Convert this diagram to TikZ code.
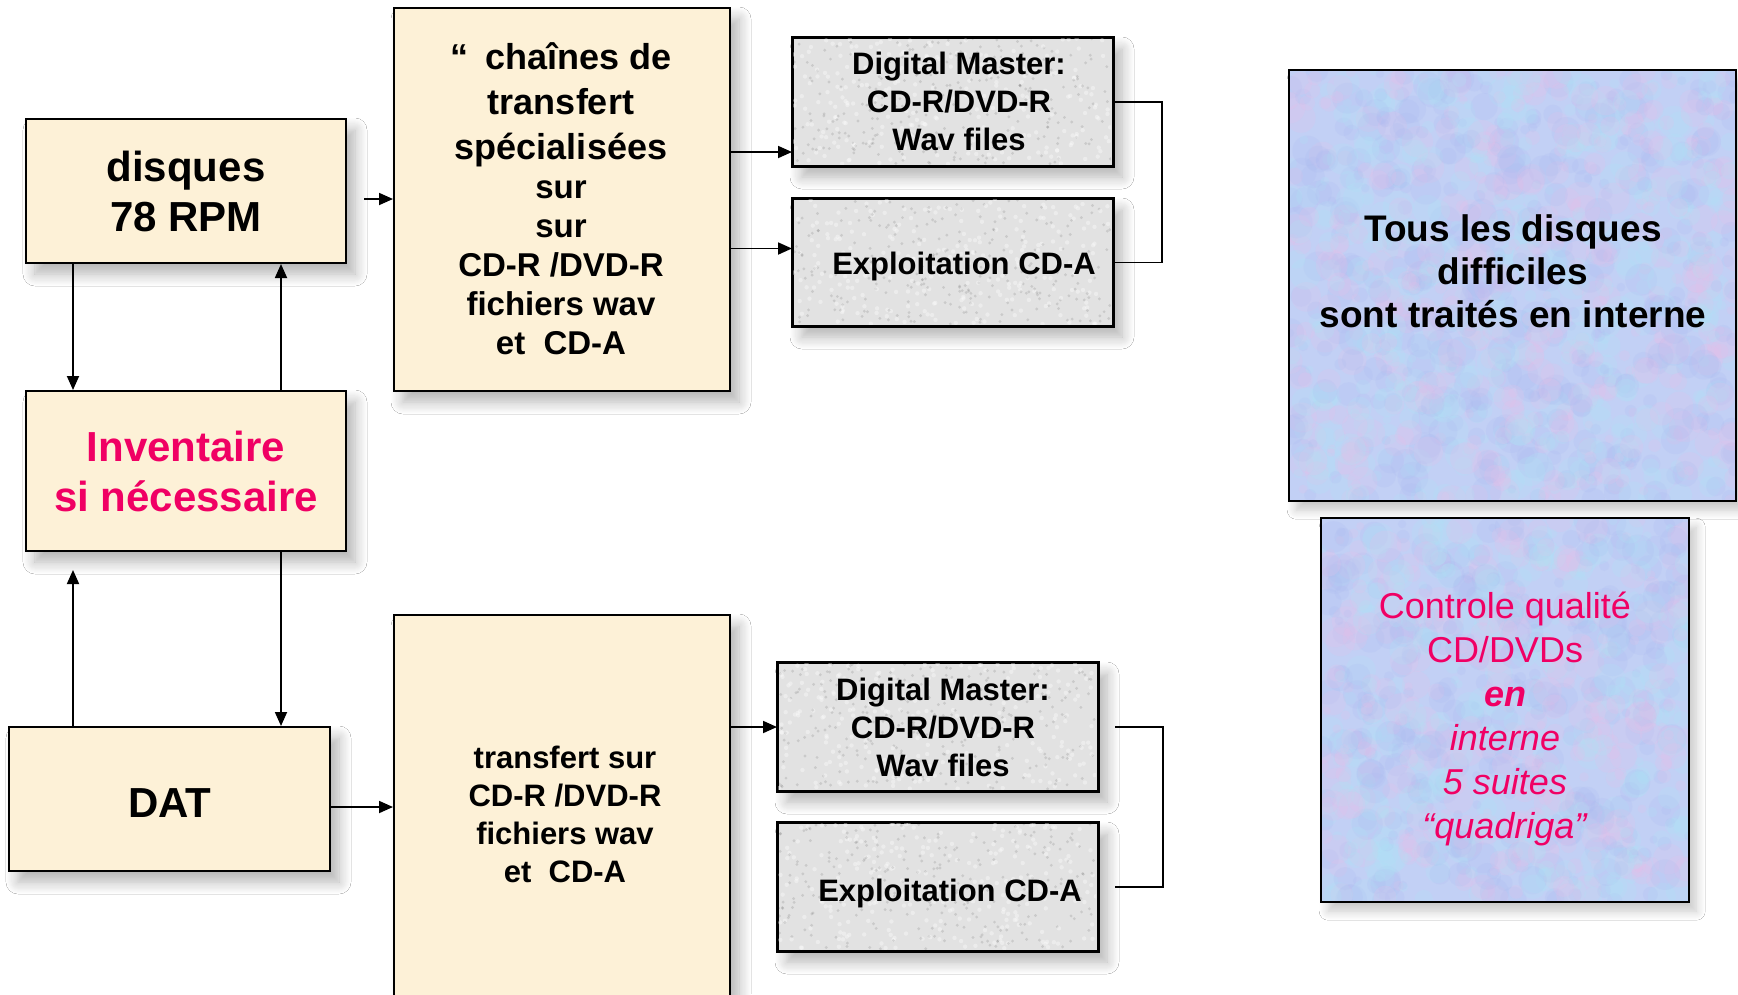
\documentclass[tikz,border=0pt]{standalone}
\usepackage{fontspec}
\setmainfont{Liberation Sans}
\usetikzlibrary{arrows.meta,shadows.blur,calc}
\definecolor{creamc}{RGB}{253,241,215}
\definecolor{grayc}{RGB}{226,226,226}
\definecolor{bluec}{RGB}{194,208,245}
\definecolor{pinkt}{RGB}{240,0,100}
\definecolor{blobpink}{RGB}{232,190,232}
\definecolor{blobcyan}{RGB}{175,228,245}
\definecolor{blobblue}{RGB}{170,185,240}
\tikzset{
  base/.style={draw=black, line width=2pt, inner sep=0pt, anchor=north west,
    blur shadow={shadow xshift=9pt, shadow yshift=-11pt, shadow blur radius=12pt, shadow blur steps=12, shadow opacity=30}},
  cream/.style={base, fill=creamc},
  graybox/.style={base, fill=grayc},
  bluebox/.style={inner sep=0pt, anchor=north west, fill=bluec,
    blur shadow={shadow xshift=7pt, shadow yshift=-9pt, shadow blur radius=9pt, shadow blur steps=10, shadow opacity=22}},
  arr/.style={line width=1.8pt, -{Triangle[length=14pt,width=12pt]}},
  conn/.style={line width=1.8pt},
  big/.style={align=center, font=\fontsize{42}{50}\selectfont\bfseries},
  mid/.style={align=center, font=\fontsize{31}{38}\selectfont\bfseries},
}
\newcommand{\speckle}[5]{% x0 y0 w h n
  \begin{scope}
    \clip (#1,#2) rectangle ++(#3,#4);
    \foreach \i in {1,...,#5}{
      \pgfmathsetmacro{\sx}{#1+rnd*#3}
      \pgfmathsetmacro{\sy}{#2+rnd*#4}
      \fill[black, opacity=0.10] (\sx,\sy) circle[radius=1.6];
      \pgfmathsetmacro{\tx}{#1+rnd*#3}
      \pgfmathsetmacro{\ty}{#2+rnd*#4}
      \fill[white, opacity=0.35] (\tx,\ty) circle[radius=2.2];
    }
  \end{scope}}
\newcommand{\mottle}[5]{% x0 y0 w h n
  \begin{scope}
    \clip (#1,#2) rectangle ++(#3,#4);
    \foreach \i in {1,...,#5}{
      \pgfmathsetmacro{\px}{#1+rnd*#3}
      \pgfmathsetmacro{\py}{#2+rnd*#4}
      \pgfmathsetmacro{\pr}{4+rnd*12}
      \fill[blobpink, opacity=0.20] (\px,\py) circle[radius=\pr];
      \pgfmathsetmacro{\qx}{#1+rnd*#3}
      \pgfmathsetmacro{\qy}{#2+rnd*#4}
      \fill[blobcyan, opacity=0.22] (\qx,\qy) circle[radius=\pr];
      \pgfmathsetmacro{\rx}{#1+rnd*#3}
      \pgfmathsetmacro{\ry}{#2+rnd*#4}
      \fill[blobblue, opacity=0.18] (\rx,\ry) circle[radius=\pr];
    }
  \end{scope}}
\begin{document}
\begin{tikzpicture}[x=1pt,y=-1pt]
\clip (0,0) rectangle (1738,994);
\fill[white] (0,0) rectangle (1738,994);
\pgfmathsetseed{7}

% left column
\node[cream, big, minimum width=320pt, minimum height=144pt] (disques) at (25,118) {disques\\78 RPM};
\node[cream, big, text=pinkt, minimum width=320pt, minimum height=160pt] (inv) at (25,390) {Inventaire\\si nécessaire};
\node[cream, minimum width=321pt, minimum height=144pt] (dat) at (8,726) {};
\node[font=\fontsize{42}{50}\selectfont\bfseries] (datt) at (170,803) {DAT};

% transfer boxes
\node[cream, minimum width=336pt, minimum height=383pt] (ch) at (393,7) {};
\node[align=center, font=\fontsize{36}{45}\selectfont\bfseries] (cht1) at (561,105) {“\hspace{0.45em}chaînes de\\transfert\\spécialisées};
\node[align=center, font=\fontsize{33}{39}\selectfont\bfseries] (cht2) at (561,268) {sur\\sur\\CD-R /DVD-R\\fichiers wav\\et\ \ CD-A};
\node[cream, minimum width=336pt, minimum height=400pt] (tr2) at (393,614) {};
\node[mid] (tr2t) at (565,814) {transfert sur\\CD-R /DVD-R\\fichiers wav\\et\ \ CD-A};

% gray boxes
\node[graybox, minimum width=320pt, minimum height=128pt] (dm1) at (792,37) {};
\node[graybox, minimum width=320pt, minimum height=127pt] (ex1) at (792,198) {};
\node[graybox, minimum width=320pt, minimum height=128pt] (dm2) at (777,662) {};
\node[graybox, minimum width=320pt, minimum height=128pt] (ex2) at (777,822) {};
\speckle{793}{38}{318}{126}{260}
\speckle{793}{199}{318}{125}{260}
\speckle{778}{663}{318}{126}{260}
\speckle{778}{823}{318}{126}{260}
\draw[line width=2pt] (dm1.north west) rectangle (dm1.south east);
\draw[line width=2pt] (ex1.north west) rectangle (ex1.south east);
\draw[line width=2pt] (dm2.north west) rectangle (dm2.south east);
\draw[line width=2pt] (ex2.north west) rectangle (ex2.south east);
\node[mid] (dm1t) at (959,101) {Digital Master:\\CD-R/DVD-R\\Wav files};
\node[mid] (ex1t) at (964,266) {Exploitation CD-A};
\node[mid] (dm2t) at (943,727) {Digital Master:\\CD-R/DVD-R\\Wav files};
\node[mid] (ex2t) at (950,893) {Exploitation CD-A};

% blue boxes
\node[bluebox, minimum width=447pt, minimum height=431pt] (tous) at (1289,70) {};
\node[bluebox, minimum width=368pt, minimum height=384pt] (ctrl) at (1321,518) {};
\mottle{1289}{70}{447}{431}{420}
\mottle{1321}{518}{368}{384}{320}
\draw[line width=2pt] (tous.north west) rectangle (tous.south east);
\draw[line width=2pt] (ctrl.north west) rectangle (ctrl.south east);
\node[align=center, font=\fontsize{37}{43}\selectfont\bfseries] (toust) at (1513,271) {Tous les disques\\difficiles\\sont traités en interne};
\node[align=center, text=pinkt, font=\fontsize{36}{44}\selectfont] (ctrlt) at (1505,719)
  {Controle qualité\\CD/DVDs\\\textbf{\textit{en}}\\\textit{interne}\\\textit{5 suites}\\\textit{“quadriga”}};

% connectors left
\draw[arr] ([xshift=48pt]disques.south west) -- ([xshift=48pt]inv.north west);
\draw[arr] ([xshift=256pt]inv.north west) -- ([xshift=256pt]disques.south west);
\draw[arr] ([xshift=65pt]dat.north west) -- ([xshift=48pt,yshift=-18pt]inv.south west);
\draw[arr] ([xshift=256pt]inv.south west) -- ([xshift=256pt]inv.south west |- dat.north);
\coordinate (c1) at ([xshift=17pt,yshift=-8pt]disques.east);
\draw[arr] (c1) -- (c1 -| ch.west);
\coordinate (c2) at ([yshift=-8pt]dat.east);
\draw[arr] (c2) -- (c2 -| tr2.west);

% connectors to gray boxes
\coordinate (a1) at ([yshift=15pt]dm1.south west);
\draw[arr] (a1 -| ch.east) -- (a1);
\coordinate (a2) at ([yshift=14pt]ex1.west);
\draw[arr] (a2 -| ch.east) -- (a2);
\draw[arr] (dm2.west -| tr2.east) -- (dm2.west);

% brackets
\draw[conn] (dm1.east) -- ++(48,0) |- (ex1.east);
\draw[conn] ([xshift=16pt]dm2.east) -- ++(48,0) |- ([xshift=16pt]ex2.east);
\end{tikzpicture}
\end{document}
